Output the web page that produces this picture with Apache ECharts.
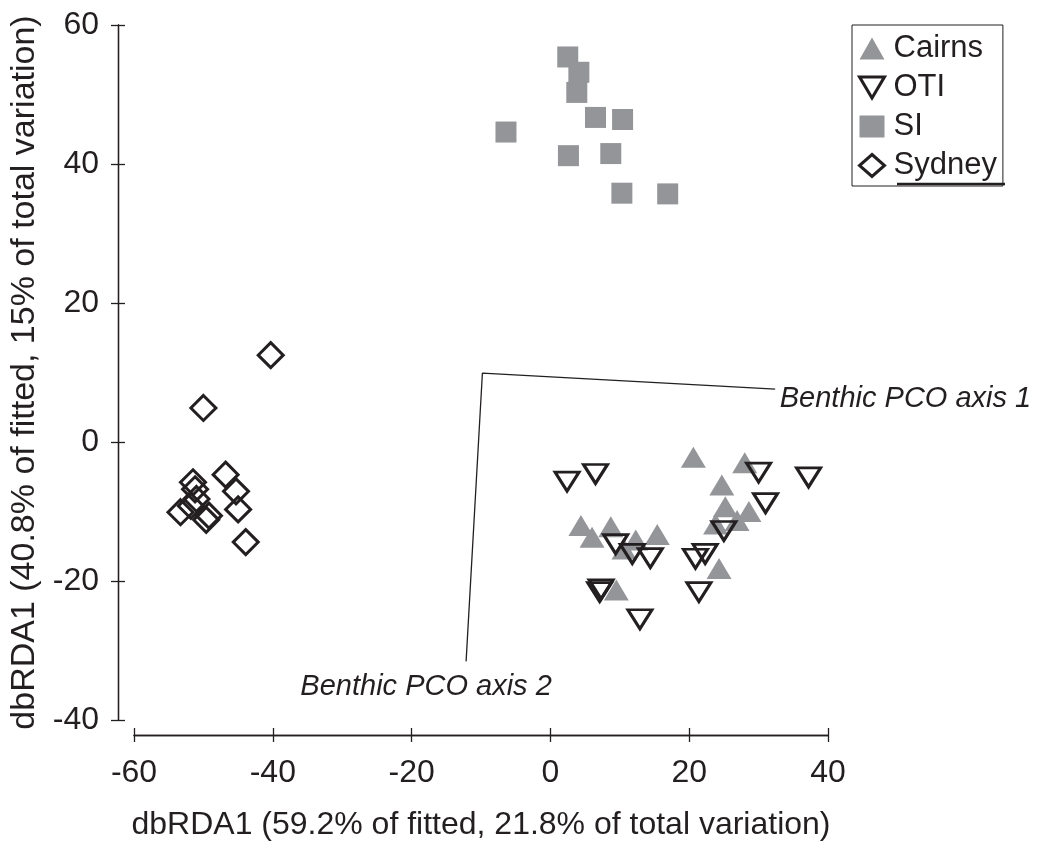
<!DOCTYPE html>
<html>
<head>
<meta charset="utf-8">
<script src="https://cdn.jsdelivr.net/npm/echarts@6/dist/echarts.min.js"></script>
<style>
html,body{margin:0;padding:0;background:#fff;}
#chart{width:1042px;height:843px;}
</style>
</head>
<body>
<div id="chart"></div>
<script>
// ---- data ----
const cairns = [[20.6,-2.2],[28.0,-3.0],[24.7,-6.2],[25.2,-9.3],[28.6,-10.0],[26.9,-11.3],[23.8,-11.8],[24.3,-18.2],[4.4,-12.0],[6.0,-13.7],[8.7,-12.2],[12.3,-14.1],[15.4,-13.3],[9.5,-21.3],[10.6,-15.4]];
const oti = [[2.4,-5.7],[6.5,-4.6],[30.0,-4.4],[37.2,-5.1],[31.0,-8.8],[25.0,-12.8],[9.4,-14.7],[11.8,-16.1],[14.4,-16.7],[20.9,-16.8],[22.3,-16.1],[7.3,-21.2],[7.1,-21.6],[21.4,-21.6],[12.9,-25.5]];
const si = [[2.5,55.4],[4.1,53.2],[3.8,50.3],[6.5,46.7],[10.4,46.4],[-6.4,44.6],[2.6,41.2],[8.7,41.5],[10.3,35.8],[16.9,35.7]];
const sydney = [[-40.3,12.5],[-50.0,4.9],[-46.8,-4.7],[-51.5,-5.8],[-51.2,-6.8],[-51.0,-8.2],[-45.3,-7.1],[-53.3,-10.1],[-51.8,-9.2],[-49.2,-10.6],[-49.6,-11.2],[-45.0,-9.7],[-43.9,-14.4]];
const pcoAxisPoints = [[32.4,7.6],[-9.8,9.9],[-12.15,-31.6]];
const pcoLabelPoints = [[32.4,7.6],[-12.15,-31.6]];
const pcoAxisLabels = ['Benthic PCO axis 1','Benthic PCO axis 2'];
const xName = 'dbRDA1 (59.2% of fitted, 21.8% of total variation)';
const yName = 'dbRDA1 (40.8% of fitted, 15% of total variation)';
const xRange = [-60, 40];
const yRange = [-40, 60];
const tickStep = 20;

// ---- chart ----
const ink = '#231f20';
const gray = '#939598';
const font = "'Liberation Sans', Arial, Helvetica, sans-serif";
const chart = echarts.init(document.getElementById('chart'), null, {renderer:'canvas'});

function xAx(tickInside, main){
  return {
    type:'value', min:xRange[0], max:xRange[1], interval:tickStep, position:'bottom', offset:15,
    name: main ? xName : '', nameLocation:'middle', nameGap:74,
    nameTextStyle:{color:ink, fontSize:32, fontFamily:font},
    axisLine:{show:true, onZero:false, lineStyle:{color:ink, width:1.3}},
    axisTick:{show:true, inside:tickInside, length:7, lineStyle:{color:ink, width:1.3}},
    axisLabel:{show:main, color:ink, fontSize:32, fontFamily:font, margin:22},
    splitLine:{show:false}
  };
}
function yAx(tickInside, main){
  return {
    type:'value', min:yRange[0], max:yRange[1], interval:tickStep, position:'left', offset:16,
    name: main ? yName : '', nameLocation:'middle', nameGap:71,
    nameTextStyle:{color:ink, fontSize:34, fontFamily:font},
    axisLine:{show:true, onZero:false, lineStyle:{color:ink, width:1.3}},
    axisTick:{show:true, inside:tickInside, length:7, lineStyle:{color:ink, width:1.3}},
    axisLabel:{show:main, color:ink, fontSize:32, fontFamily:font, margin:19},
    splitLine:{show:false}
  };
}

const downTri = 'path://M0,0 L20,0 L10,17 Z';

chart.setOption({
  animation:false,
  backgroundColor:'#fff',
  grid:{left:134, right:214, top:25, bottom:123, containLabel:false, outerBoundsMode:'none'},
  xAxis:[xAx(false,true), xAx(true,false)],
  yAxis:[yAx(false,true), yAx(true,false)],
  legend:{
    orient:'vertical', left:852, top:25,
    data:['Cairns','OTI','SI','Sydney'],
    borderColor:ink, borderWidth:1, padding:[8,6,5,6],
    itemWidth:25, itemHeight:22, itemGap:8,
    textStyle:{color:ink, fontSize:31, fontFamily:font, lineHeight:31, padding:[0,0,0,4]},
    itemStyle:{borderWidth:'inherit'}
  },
  graphic:[
    {type:'line', shape:{x1:897, y1:184, x2:1005, y2:184}, style:{stroke:ink, lineWidth:2.5}, z:100}
  ],
  series:[
    {
      type:'line', name:'pco', data:pcoAxisPoints, symbol:'none',
      lineStyle:{color:ink, width:1.3}, silent:true, z:1
    },
    {
      type:'scatter', name:'pcoLabels', data:pcoLabelPoints.map((p,i)=>({value:p, label:{
        formatter: pcoAxisLabels[i],
        position: i===0 ? 'right' : 'bottom',
        distance: i===0 ? 4 : 10,
        offset: i===0 ? [0,10] : [-40,0]
      }})),
      symbol:'circle', symbolSize:1, itemStyle:{color:'#fff', opacity:1},
      label:{show:true, color:'#231f20', opacity:1, textBorderWidth:0, fontSize:29, fontStyle:'italic', fontFamily:font},
      emphasis:{disabled:true},
      silent:true, z:1
    },
    {
      type:'scatter', name:'SI', data:si, symbol:'rect', symbolSize:21,
      itemStyle:{color:gray, opacity:1}, z:2
    },
    {
      type:'scatter', name:'Cairns', data:cairns, symbol:'triangle', symbolSize:[25,21],
      itemStyle:{color:gray, opacity:1}, z:2
    },
    {
      type:'scatter', name:'OTI', data:oti, symbol:downTri, symbolSize:[24,19],
      itemStyle:{color:'rgba(0,0,0,0)', borderColor:ink, borderWidth:3, opacity:1}, z:3
    },
    {
      type:'scatter', name:'Sydney', data:sydney, symbol:'diamond', symbolSize:25,
      itemStyle:{color:'rgba(0,0,0,0)', borderColor:ink, borderWidth:3, opacity:1}, z:3
    }
  ]
});
</script>
</body>
</html>
